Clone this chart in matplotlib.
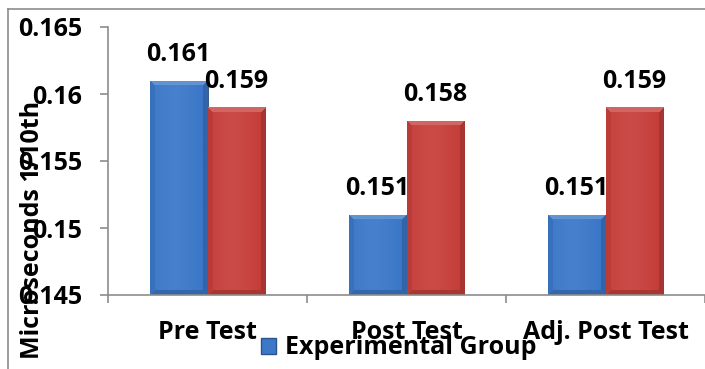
import numpy as np
import matplotlib
matplotlib.use("Agg")
import matplotlib.pyplot as plt
from matplotlib.lines import Line2D
from matplotlib.patches import Patch
from matplotlib.colors import to_rgb

categories = ["Pre Test", "Post Test", "Adj. Post Test"]
experimental = [0.161, 0.151, 0.151]
control = [0.159, 0.158, 0.159]
y_ticks = [0.145, 0.15, 0.155, 0.16, 0.165]
y_tick_labels = ["0.145", "0.15", "0.155", "0.16", "0.165"]
legend_label = "Experimental Group"
y_label = "Microseconds 1/10th"

W, H = 705, 369
DPI = 100
FONT = ["Open Sans", "DejaVu Sans"]
FS = 18
GRAY = "#8c8c8c"

plt.rcParams["font.family"] = FONT
plt.rcParams["font.weight"] = "bold"

fig = plt.figure(figsize=(W / DPI, H / DPI), dpi=DPI)
fig.patch.set_facecolor("white")


def fx(px):
    return px / W


def fy(py):
    return 1 - py / H


ax = fig.add_axes([fx(108), fy(295), fx(705) - fx(108), fy(27) - fy(295)])
ax.set_xlim(-0.5, 2.485)
ax.set_ylim(0.145, 0.165)

x = np.arange(len(categories))
bw = 0.29
blue = "#3b78c8"
red = "#c63f3b"

bars_e = ax.bar(x - bw / 2, [v - 0.145 for v in experimental], bw, bottom=0.145,
                color=blue, zorder=2, label=legend_label)
bars_c = ax.bar(x + bw / 2, [v - 0.145 for v in control], bw, bottom=0.145,
                color=red, zorder=2)


def shade(c, f):
    c = np.array(to_rgb(c))
    if f >= 0:
        return c + (1 - c) * f
    return c * (1 + f)


def bevel(rect, base):
    # bevelled fill: light top facet, darker side and bottom facets
    fig.canvas.draw()
    (x0, y0), (x1, y1) = ax.transData.transform(
        [(rect.get_x(), rect.get_y()), (rect.get_x() + rect.get_width(), rect.get_y() + rect.get_height())])
    wp, hp = int(round(x1 - x0)), int(round(y1 - y0))
    img = np.zeros((hp, wp, 3))
    cols = np.linspace(0, 1, wp)
    prof = 0.06 - 0.22 * np.abs(cols - 0.42) ** 1.6
    for j in range(wp):
        img[:, j] = shade(base, prof[j])
    b = 5
    top = shade(base, 0.2)
    side_l = shade(base, -0.06)
    side_r = shade(base, -0.16)
    bot = shade(base, -0.14)
    for r in range(hp):
        for j in range(wp):
            dt, db, dl, dr = r, hp - 1 - r, j, wp - 1 - j
            m = min(dt, db, dl, dr)
            if m >= b:
                continue
            if m == dt:
                img[r, j] = top
            elif m == dl:
                img[r, j] = side_l
            elif m == dr:
                img[r, j] = side_r
            else:
                img[r, j] = bot
    im = ax.imshow(img, extent=(rect.get_x(), rect.get_x() + rect.get_width(),
                                rect.get_y(), rect.get_y() + rect.get_height()),
                   aspect="auto", zorder=2.5, interpolation="bilinear")
    im.set_clip_path(rect)
    rect.set_edgecolor(shade(base, -0.35))
    rect.set_linewidth(0.6)


for r in bars_e:
    bevel(r, blue)
for r in bars_c:
    bevel(r, red)
ax.set_xlim(-0.5, 2.485)
ax.set_ylim(0.145, 0.165)

for bars, vals in ((bars_e, experimental), (bars_c, control)):
    for r, v in zip(bars, vals):
        ax.annotate(f"{v:g}", (r.get_x() + r.get_width() / 2, v),
                    xytext=(0, 14), textcoords="offset points",
                    ha="center", va="baseline", fontsize=FS, fontweight="bold",
                    color="black", zorder=4, annotation_clip=False)

for s in ("top", "right"):
    ax.spines[s].set_visible(False)
for s in ("left", "bottom"):
    ax.spines[s].set_color(GRAY)
    ax.spines[s].set_linewidth(1.2)

ax.set_yticks(y_ticks)
ax.set_yticklabels(y_tick_labels)
ax.tick_params(axis="y", direction="out", length=5.8, width=1.2, color=GRAY,
               pad=13, labelsize=FS)
ax.set_xticks(x)
ax.set_xticklabels(categories)
ax.tick_params(axis="x", which="major", length=0, pad=18, labelsize=FS)
ax.set_xticks([-0.5, 0.5, 1.5, 2.5], minor=True)
ax.tick_params(axis="x", which="minor", direction="out", length=5.8, width=1.2, color=GRAY)
for t in ax.get_xticklabels() + ax.get_yticklabels():
    t.set_fontweight("bold")

fig.text(fx(33), fy(230), y_label, rotation=90, ha="center", va="center",
         fontsize=FS, fontweight="bold", zorder=5)

fig.legend(handles=[Patch(facecolor=blue, edgecolor=shade(blue, -0.3))],
           labels=[legend_label], loc="center left",
           bbox_to_anchor=(fx(261), fy(348)), frameon=False,
           handlelength=0.6, handleheight=0.6, handletextpad=0.35,
           borderpad=0, borderaxespad=0, prop={"size": FS, "weight": "bold"})

# outer chart frame
fig.add_artist(Line2D([fx(8), fx(8)], [fy(9), 0], color=GRAY, lw=1.2))
fig.add_artist(Line2D([fx(8), 1], [fy(9), fy(9)], color=GRAY, lw=1.2))

fig.savefig("out.png", dpi=DPI, facecolor="white")
